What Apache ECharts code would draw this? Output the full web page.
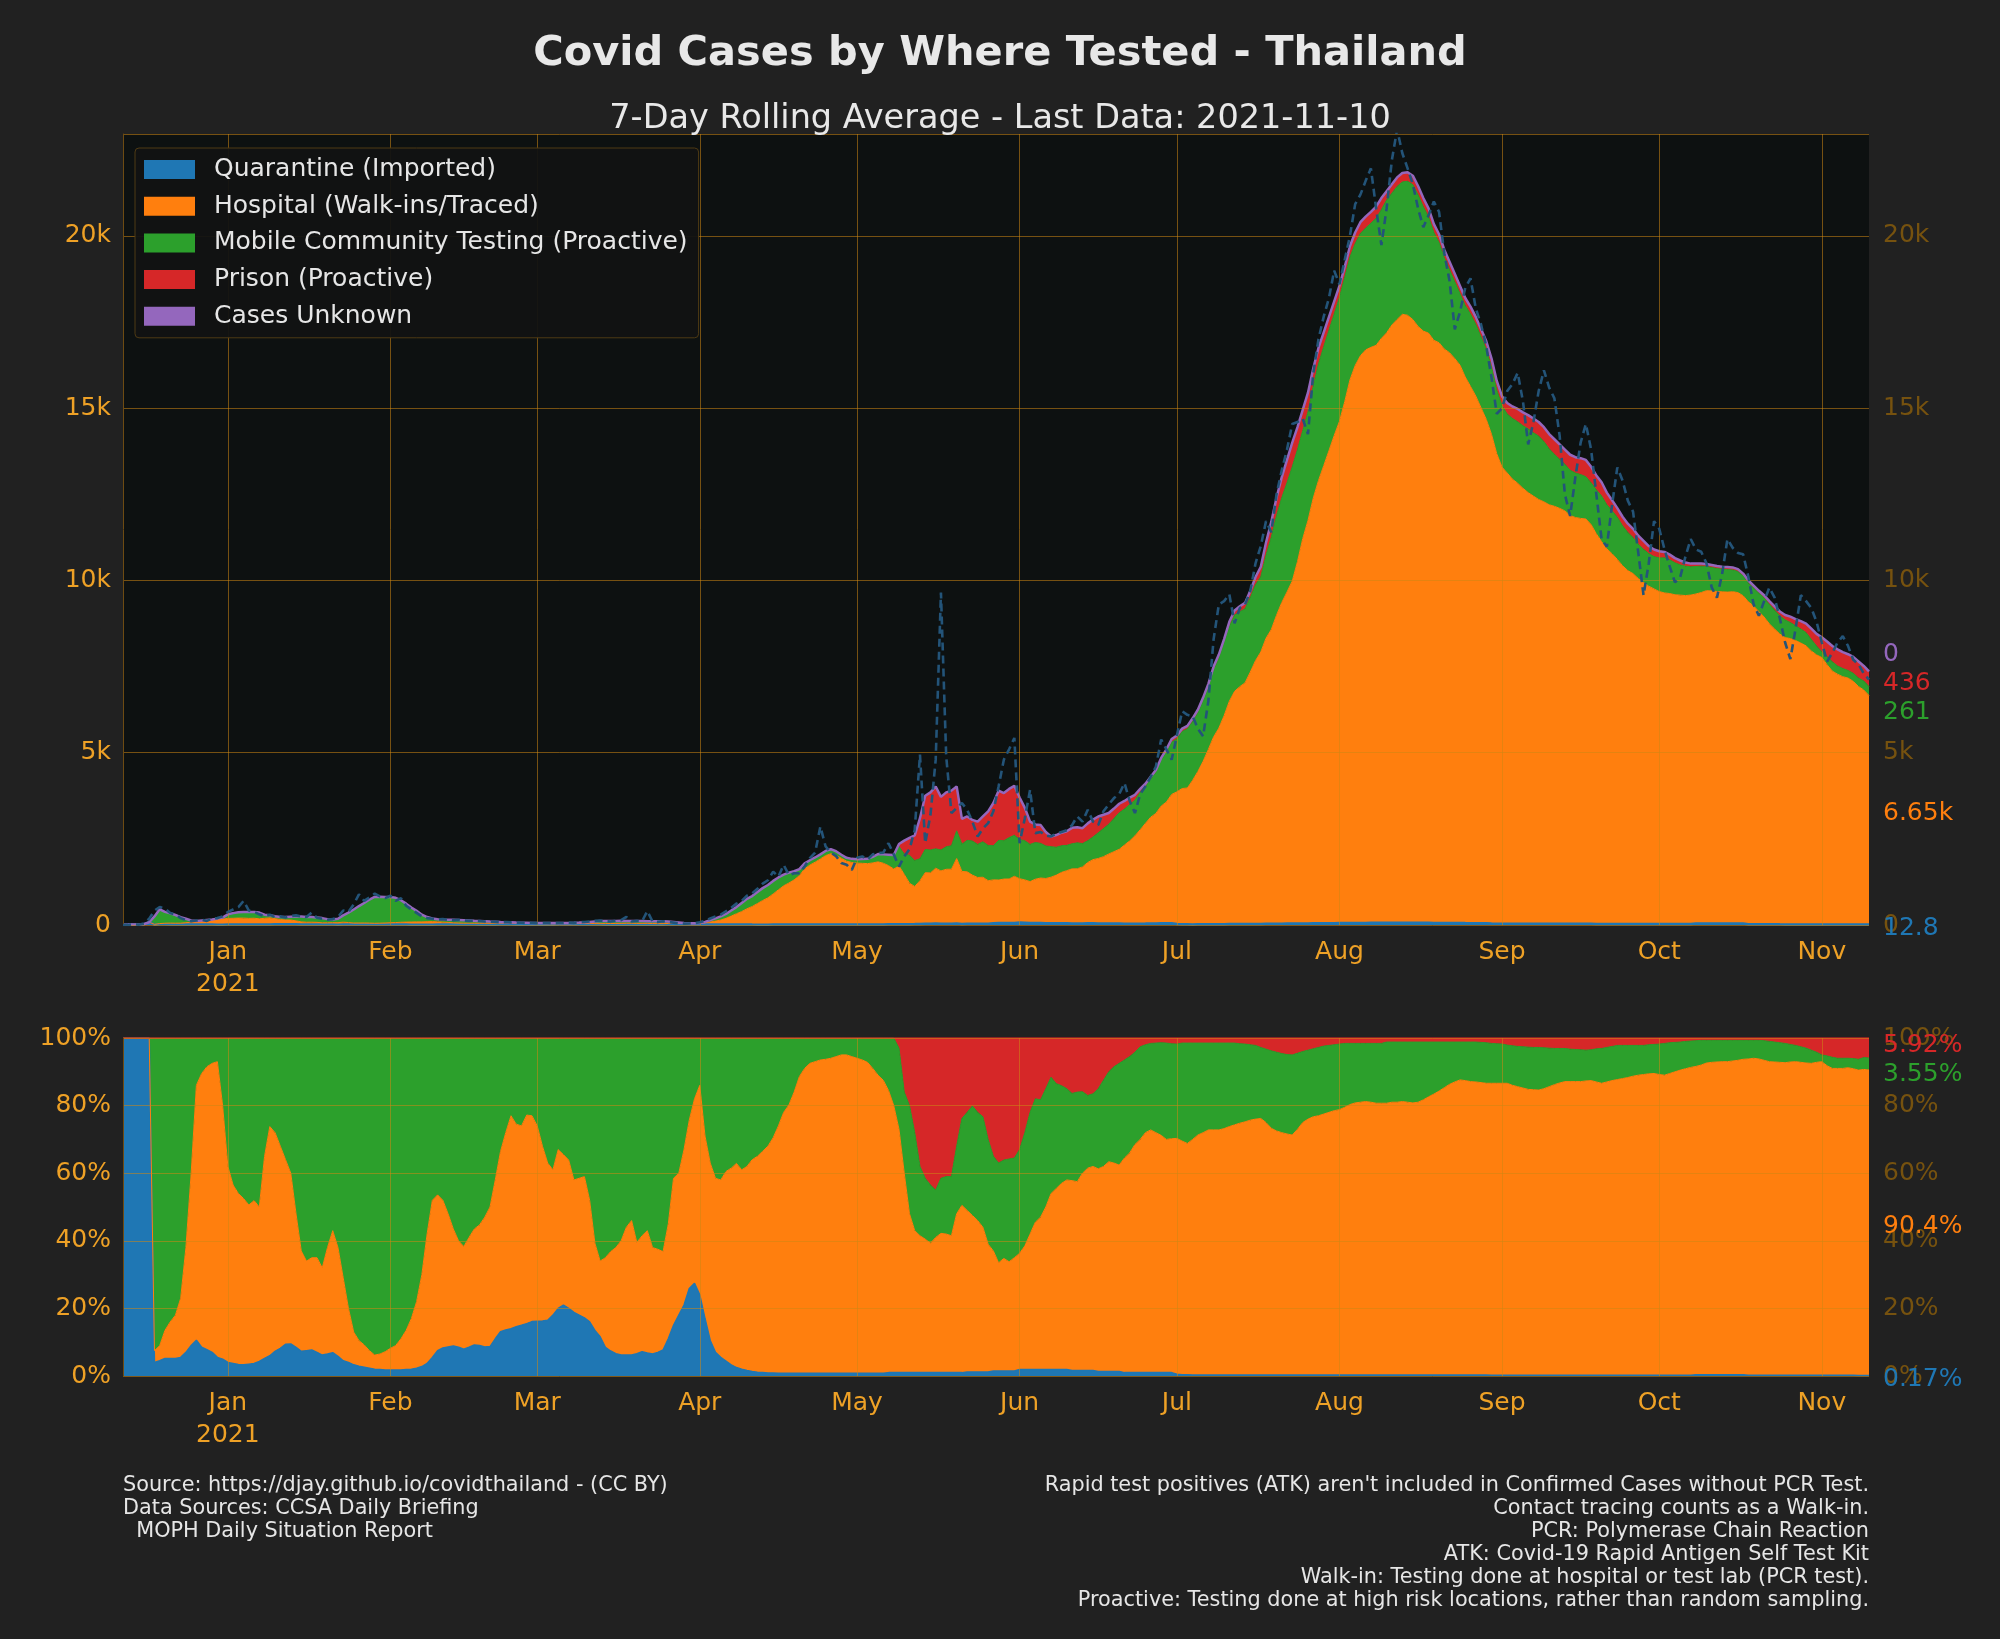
<!DOCTYPE html>
<html><head><meta charset="utf-8">
<script src="https://cdn.jsdelivr.net/npm/echarts@6.0.0/dist/echarts.min.js"></script>
<style>html,body{margin:0;padding:0;background:#212121;}#c{width:2000px;height:1639px;}</style>
</head><body><div id="c"></div><script>
// ---------- DATA ----------
const startDate = '2020-12-12';
const monthLabels = ['Jan\n2021','Feb','Mar','Apr','May','Jun','Jul','Aug','Sep','Oct','Nov','Dec'];
const seriesNames = ['Quarantine (Imported)','Hospital (Walk-ins/Traced)','Mobile Community Testing (Proactive)','Prison (Proactive)','Cases Unknown'];

// 7-day rolling average of all cases (top of the stack)
const total7d = [
10,12,15,18,25,80,250,455,380,340,
290,230,180,130,115,130,145,160,185,215,
310,345,370,380,380,378,360,300,280,255,
235,230,240,250,245,235,232,220,200,170,
160,180,280,360,450,550,640,740,815,820,
815,815,790,720,620,510,410,300,230,190,
170,160,155,150,145,140,130,120,116,110,
100,95,88,82,78,72,68,64,60,58,
58,57,57,56,58,60,65,72,80,90,
105,115,118,116,118,120,116,114,116,118,
112,110,108,106,100,88,75,60,52,48,
60,90,140,194,250,320,420,520,640,760,
840,960,1070,1160,1280,1380,1460,1520,1560,1620,
1790,1880,1960,2050,2150,2200,2140,2040,1950,1920,
1910,1915,1920,1980,2060,2050,2040,2030,2350,2450,
2530,2600,3100,3750,3850,4020,3720,3850,3900,4020,
3080,3150,3050,3000,3150,3300,3540,3900,3830,3950,
4040,3700,3400,3000,2920,2900,2700,2570,2610,2680,
2720,2820,2840,2810,2950,3060,3150,3200,3250,3380,
3520,3600,3700,3780,3950,4100,4300,4500,4850,5100,
5400,5500,5700,5780,6000,6250,6600,7000,7500,7850,
8300,8800,9130,9250,9350,9700,10100,10400,11100,11700,
12400,13000,13500,14000,14450,14950,15450,16150,16750,17200,
17650,18100,18550,19100,19700,20100,20400,20560,20700,20850,
21100,21300,21500,21700,21830,21850,21750,21450,21100,20800,
20350,20050,19600,19250,18900,18550,18200,17950,17650,17300,
16950,16450,15800,15350,15150,15050,14980,14880,14800,14700,
14600,14450,14250,14100,13950,13800,13650,13580,13550,13500,
13300,13050,12850,12550,12330,12100,11850,11650,11500,11300,
11150,11000,10900,10850,10830,10750,10650,10580,10520,10490,
10490,10490,10480,10450,10420,10400,10390,10380,10330,10200,
10000,9850,9700,9570,9400,9250,9100,9000,8950,8880,
8820,8750,8600,8450,8350,8230,8100,8000,7920,7860,
7780,7650,7520,7360];

// raw daily cases (dashed line)
const rawCases = [
0,0,20,10,40,180,420,520,480,350,
300,200,140,110,130,150,120,190,200,250,
380,450,520,700,420,380,310,250,300,230,
250,220,260,280,250,230,360,210,180,150,
170,230,420,380,600,890,700,800,910,830,
780,850,700,780,560,450,350,250,200,180,
160,170,150,140,150,130,120,125,115,100,
95,90,80,85,75,70,65,60,62,55,
58,60,52,56,60,70,62,80,85,100,
120,130,110,100,125,140,233,100,120,110,
407,100,90,110,90,70,50,40,45,50,
80,120,190,250,300,400,500,620,700,850,
920,1050,1200,1300,1550,1400,1745,1450,1500,1500,
1700,1940,2100,2860,2280,2100,2000,1800,1750,1600,
1950,1990,1900,2050,2085,2100,2375,2050,1697,1990,
2200,2763,4945,2375,3200,4800,9647,4896,3248,3400,
3539,3345,3000,2570,2800,2957,3300,4024,4800,5100,
5430,2375,3100,3927,2667,2700,2600,2570,2650,2700,
2750,2900,3151,3000,3345,3000,2900,3300,3500,3684,
3800,4120,3600,3248,3800,4024,4300,4600,5381,5100,
4800,5500,6205,6100,6060,5700,5478,6500,8290,9308,
9400,9600,8756,9200,9300,9700,10500,11000,11723,11400,
12500,13200,13800,14543,14600,14700,14246,16000,17000,17660,
18200,18995,18600,19300,20000,20924,21200,21600,21963,20800,
19737,20800,22200,23100,22400,21963,21500,20800,20257,20600,
21000,20700,19500,18698,17289,17800,18500,18772,17900,17437,
16800,15900,14840,15000,15500,15700,16027,15200,13950,14600,
15500,16101,15600,15285,14200,12500,11872,13000,14000,14543,
13800,12500,11200,10981,12200,13282,12900,12317,12000,10800,
9572,10500,11723,11500,10900,10400,9943,10100,10700,11204,
10900,10833,10500,9800,9498,10200,11204,10950,10800,10759,
10100,9300,8978,9400,9794,9500,8900,8200,7717,8600,
9572,9400,9201,8800,8200,7643,7900,8200,8385,8100,
7700,7568,7300,7123];

// stacked share boundaries (% of total)
const quarantineTopPct = [
100,100,100,100,100,100,4,4.5,5.2,5.2,
5.2,5.5,7,9,10.6,8.5,7.8,7,5.5,5,
4,3.7,3.4,3.3,3.5,3.7,4.3,5.2,6,7.3,
8.2,9.4,9.5,8.5,7.3,7.5,7.7,7,6.2,6.5,
6.9,5.8,4.5,4,3.3,2.9,2.6,2.3,2,1.9,
1.8,1.8,1.8,1.8,1.9,2,2.3,2.8,3.7,5.5,
7.5,8.3,8.6,8.9,8.5,7.9,8.5,9.2,9,8.6,
8.7,11,13.1,13.6,14,14.6,15,15.5,16.1,16.2,
16.3,16.5,18,20,21,20,18.8,18,17.2,16,
13.5,11.6,8.5,7.4,6.6,6.2,6.2,6.2,6.6,7.2,
6.8,6.5,7,7.7,11,15,18,21,25.9,27.4,
24,17,10.5,7,5.5,4.4,3.3,2.5,2,1.6,
1.3,1.1,1,0.9,0.9,0.8,0.8,0.8,0.8,0.8,
0.8,0.8,0.8,0.8,0.8,0.8,0.8,0.8,0.8,0.8,
0.8,0.8,0.8,0.8,0.8,0.8,1,1,1,1,
1,1,1,1,1,1,1,1,1,1,
1,1.2,1.2,1.2,1.2,1.2,1.5,1.5,1.5,1.5,
1.5,1.9,1.9,1.9,1.9,1.9,1.9,1.9,1.9,1.9,
1.9,1.6,1.6,1.6,1.6,1.6,1.3,1.3,1.3,1.3,
1.3,1,1,1,1,1,1,1,1,1,
1,0.5,0.4,0.4,0.3,0.3,0.3,0.3,0.3,0.3,
0.3,0.3,0.3,0.3,0.3,0.3,0.3,0.3,0.3,0.3,
0.3,0.3,0.3,0.3,0.3,0.3,0.3,0.3,0.3,0.3,
0.3,0.3,0.3,0.3,0.3,0.3,0.3,0.3,0.3,0.3,
0.3,0.3,0.3,0.3,0.3,0.3,0.3,0.3,0.3,0.3,
0.3,0.3,0.3,0.3,0.3,0.3,0.3,0.3,0.3,0.3,
0.3,0.25,0.25,0.25,0.25,0.25,0.25,0.25,0.25,0.25,
0.25,0.25,0.25,0.25,0.25,0.25,0.25,0.25,0.25,0.25,
0.25,0.25,0.25,0.25,0.25,0.25,0.25,0.25,0.25,0.25,
0.25,0.25,0.25,0.25,0.25,0.25,0.25,0.25,0.25,0.25,
0.4,0.4,0.4,0.4,0.4,0.4,0.4,0.4,0.4,0.4,
0.2,0.2,0.2,0.2,0.2,0.2,0.2,0.2,0.2,0.2,
0.2,0.2,0.2,0.2,0.2,0.2,0.2,0.2,0.2,0.2,
0.2,0.18,0.18,0.174];

const hospitalTopPct = [
100,100,100,100,100,100,7.5,9,13.5,16,
18,23,38,60,86,89.5,91.5,92.5,93,80,
62,56.5,54,52.5,50.6,51.9,50,65,73.8,72,
68,64,60,48,37,34,35,35,32,38,
43,38,29,20,13,10.5,9.2,7.5,6.2,6.5,
7.2,8.2,9,11,13.5,17,22,30,42,52,
53.6,52,48,43.5,40,38.3,41,43.5,44.7,47,
50,58,66.4,72,77,74.5,74,77.2,77,74,
68,63,61,67,65.5,63.9,58,58.5,59,52,
39.3,34,35,36.8,38,40,44,46,39.5,41.5,
43,38,37.5,36.8,45,58.5,60,67,75.7,82,
86,71,63,58.5,58,60.5,61.5,62.9,61,62,
64,65,66.5,68,70.5,74,78,80.2,84,88.6,
91,92.5,93,93.5,93.7,94,94.5,95,95,94.5,
94,93.5,92.8,91,89,87.5,84.5,80,73,60,
48,43,41.5,40.5,39.3,41,42.2,42,41.5,48,
50.5,49,47.5,46,44,39,37,33.5,34.8,33.8,
35,36.3,38.5,42,45.5,47,50,54,55.5,57,
58,57.8,57.5,60,61.5,62,61.3,62,63.4,63,
62.4,64.5,66,68.5,70,72,72.8,72,71.2,70,
70.2,70.3,69.5,68.8,70,71.3,72,72.8,72.8,72.8,
73.2,73.8,74.3,74.8,75.2,75.7,76,76.2,75,73.3,
72.5,72,71.6,71.3,73,75,76,76.7,77,77.5,
78,78.5,78.8,79.5,80.3,80.8,81,81.2,81,80.7,
80.7,80.7,81,81,81.2,81,80.8,81,81.7,82.6,
83.4,84.3,85.3,86.3,87,87.6,87.4,87.1,87,86.8,
86.6,86.6,86.6,86.6,86.6,86,85.6,85.2,84.8,84.7,
84.6,85,85.6,86.2,86.7,87.1,87.1,87.1,87.1,87.3,
87.4,87,86.6,87,87.4,87.7,88,88.3,88.7,89,
89.2,89.4,89.5,89.2,89,89.5,90,90.5,90.9,91.3,
91.6,92,92.6,92.8,92.9,93,93,93.2,93.4,93.7,
93.8,94,93.8,93.4,93,92.9,92.8,92.7,92.9,93,
92.8,92.6,92.5,92.8,93,91.8,91,91,91,91.2,
90.9,90.5,90.7,90.534];

const mobileTopPct = [
100,100,100,100,100,100,100,100,100,100,
100,100,100,100,100,100,100,100,100,100,
100,100,100,100,100,100,100,100,100,100,
100,100,100,100,100,100,100,100,100,100,
100,100,100,100,100,100,100,100,100,100,
100,100,100,100,100,100,100,100,100,100,
100,100,100,100,100,100,100,100,100,100,
100,100,100,100,100,100,100,100,100,100,
100,100,100,100,100,100,100,100,100,100,
100,100,100,100,100,100,100,100,100,100,
100,100,100,100,100,100,100,100,100,100,
100,100,100,100,100,100,100,100,100,100,
100,100,100,100,100,100,100,100,100,100,
100,100,100,100,100,100,100,100,100,100,
100,100,100,100,100,100,100,100,97,84,
80,72,62,58.5,56.5,55,58.5,59,59,68,
76.2,78,79.9,78,76.7,70,65,63,63.9,64.2,
64.5,67,72,78,82,81.7,85,88.4,86.5,85.9,
85,83.6,84,84.1,83,83.5,85,87.5,90,91.5,
92.5,93.5,94.5,95.8,97.4,98,98.4,98.5,98.6,98.5,
98.3,98.2,98.5,98.5,98.5,98.5,98.5,98.5,98.5,98.5,
98.5,98.5,98.5,98.3,98.2,98,97.8,97.2,96.7,96.2,
95.8,95.4,95.1,95,95.5,96,96.4,96.8,97.2,97.6,
97.8,98,98.2,98.4,98.4,98.4,98.4,98.4,98.4,98.4,
98.4,98.8,98.8,98.8,98.8,98.8,98.8,98.8,98.8,98.8,
98.8,98.8,98.8,98.8,98.8,98.8,98.8,98.8,98.8,98.7,
98.6,98.4,98.3,98.2,97.9,97.7,97.5,97.4,97.3,97.2,
97.2,97.1,97,96.9,96.9,96.9,96.7,96.6,96.5,96.4,
96.5,96.8,96.9,97.2,97.5,97.8,97.8,97.8,97.8,97.8,
97.8,98,98.1,98.2,98.4,98.6,98.7,98.8,99,99.1,
99.2,99.3,99.3,99.3,99.3,99.3,99.3,99.3,99.3,99.3,
99.3,99.3,99.3,99.2,99,98.8,98.6,98.4,98.1,97.8,
97.4,97,96.4,95.8,95,94.7,94.3,94,94,94,
93.9,93.7,94.2,94.08];

const unknownCasesValue = 0; // "Cases Unknown" reads 0 throughout

// ---------- BUILD ----------
const N = total7d.length;
const dates = [];
{ const t0 = Date.parse(startDate + 'T00:00:00Z'); for (let i = 0; i < N; i++) dates.push(new Date(t0 + i * 86400000).toISOString().slice(0, 10)); }

const pctQ = quarantineTopPct.slice();
const pctH = hospitalTopPct.map((v, i) => v - quarantineTopPct[i]);
const pctM = mobileTopPct.map((v, i) => v - hospitalTopPct[i]);
const pctP = mobileTopPct.map(v => 100 - v);
const toAbs = p => p.map((v, i) => total7d[i] * v / 100);
const absQ = toAbs(pctQ), absH = toAbs(pctH), absM = toAbs(pctM), absP = toAbs(pctP);
const absU = dates.map(() => unknownCasesValue);

const FONT = 'DejaVu Sans';
const ORANGE_TXT = '#eea126';
const BROWN_TXT = '#76520f';
const GRID_CLR = 'rgba(205,135,20,0.55)';
const COL = ['#1f77b4', '#ff7f0e', '#2ca02c', '#d62728', '#9467bd'];

const isMonthStart = (idx) => dates[idx] && dates[idx].slice(8) === '01';
const monthFmt = (val) => monthLabels[+val.slice(5, 7) - 1];

function xAxisCfg(gi) {
  return {
    type: 'category', gridIndex: gi, data: dates, boundaryGap: false, z: 3,
    axisLine: { show: false }, axisTick: { show: false },
    axisLabel: { interval: (i) => isMonthStart(i), formatter: monthFmt, color: ORANGE_TXT,
      fontSize: 25, lineHeight: 32, margin: 11, fontFamily: FONT, hideOverlap: false },
    splitLine: { show: true, interval: (i) => isMonthStart(i), lineStyle: { color: GRID_CLR, width: 1 } }
  };
}
function yAxisCfg(gi, pos, max, interval, fmt, color, split) {
  return {
    type: 'value', gridIndex: gi, position: pos, min: 0, max: max, interval: interval, z: 3,
    axisLine: { show: pos === 'left', lineStyle: { color: '#6d4b12', width: 1 } },
    axisTick: { show: false },
    axisLabel: { formatter: fmt, color: color, fontSize: 25, fontFamily: FONT, margin: pos === 'left' ? 12 : 14,
      padding: [7, 0, 0, 0], showMaxLabel: max === 100 },
    splitLine: { show: split, lineStyle: { color: GRID_CLR, width: 1 } }
  };
}
const kFmt = v => (v === 0 ? '0' : (v % 1000 === 0 ? (v / 1000) + 'k' : ''));
const pFmt = v => v + '%';

function area(name, data, color, xi, yi, stack, lw) {
  return { name, type: 'line', xAxisIndex: xi, yAxisIndex: yi, stack, data, symbol: 'none', showSymbol: false,
    lineStyle: { color, width: lw }, itemStyle: { color }, areaStyle: { color, opacity: 1 },
    emphasis: { disabled: true }, z: 2, silent: true };
}

const series = [
  area(seriesNames[0], absQ, COL[0], 0, 0, 'top', 2.5),
  area(seriesNames[1], absH, COL[1], 0, 0, 'top', 1),
  area(seriesNames[2], absM, COL[2], 0, 0, 'top', 1),
  area(seriesNames[3], absP, COL[3], 0, 0, 'top', 1),
  area(seriesNames[4], absU, COL[4], 0, 0, 'top', 2.5),
  { name: 'Cases', type: 'line', xAxisIndex: 0, yAxisIndex: 0, data: rawCases, symbol: 'none', z: 4, silent: true,
    lineStyle: { color: '#235479', width: 2.6, type: [8, 5] } },
  area(seriesNames[0], pctQ, COL[0], 1, 2, 'pct', 1.5),
  area(seriesNames[1], pctH, COL[1], 1, 2, 'pct', 1),
  area(seriesNames[2], pctM, COL[2], 1, 2, 'pct', 1),
  area(seriesNames[3], pctP, COL[3], 1, 2, 'pct', 1.5)
];

const chart = echarts.init(document.getElementById('c'), null, { renderer: 'canvas', width: 2000, height: 1639 });
const TOPMAX = 22960;

const footLeft = ['Source: https://djay.github.io/covidthailand - (CC BY)', 'Data Sources: CCSA Daily Briefing', '  MOPH Daily Situation Report'];
const footRight = ["Rapid test positives (ATK) aren't included in Confirmed Cases without PCR Test.", 'Contact tracing counts as a Walk-in.',
  'PCR: Polymerase Chain Reaction', 'ATK: Covid-19 Rapid Antigen Self Test Kit', 'Walk-in: Testing done at hospital or test lab (PCR test).',
  'Proactive: Testing done at high risk locations, rather than random sampling.'];

function txt(text, x, y, size, color, align, weight) {
  return { type: 'text', silent: true, z: 100,
    style: { text, x, y, fill: color, font: (weight || 'normal') + ' ' + size + 'px "' + FONT + '"',
      textAlign: align, align: align, textVerticalAlign: 'middle', verticalAlign: 'middle' } };
}
const graphics = [
  txt('Covid Cases by Where Tested - Thailand', 1000, 54, 41.5, '#e8e8e8', 'center', 'bold'),
  txt('7-Day Rolling Average - Last Data: 2021-11-10', 1000, 119, 33.5, '#e8e8e8', 'center')
];
footLeft.forEach((t, i) => graphics.push(txt(t, 123, 1486 + i * 23, 20.8, '#e6e6e6', 'left')));
footRight.forEach((t, i) => graphics.push(txt(t, 1869, 1486 + i * 23, 20.8, '#e6e6e6', 'right')));

chart.setOption({
  animation: false,
  backgroundColor: '#212121',
  textStyle: { fontFamily: FONT },
  grid: [
    { left: 123, top: 134, width: 1746, height: 791, show: true, backgroundColor: '#0d1111', borderWidth: 0, containLabel: false, outerBoundsMode: 'none' },
    { left: 123, top: 1038, width: 1746, height: 338, show: true, backgroundColor: '#0d1111', borderWidth: 0, containLabel: false, outerBoundsMode: 'none' }
  ],
  xAxis: [xAxisCfg(0), xAxisCfg(1)],
  yAxis: [
    yAxisCfg(0, 'left', TOPMAX, 5000, kFmt, ORANGE_TXT, true),
    yAxisCfg(0, 'right', TOPMAX, 5000, kFmt, BROWN_TXT, false),
    yAxisCfg(1, 'left', 100, 20, pFmt, ORANGE_TXT, true),
    yAxisCfg(1, 'right', 100, 20, pFmt, BROWN_TXT, false)
  ],
  legend: {
    data: seriesNames, orient: 'vertical', left: 135, top: 148, selectedMode: false,
    icon: 'rect', itemWidth: 51, itemHeight: 19, itemGap: 4.7, padding: [5.5, 11, 5.5, 9],
    backgroundColor: 'rgba(18,19,19,0.95)', borderColor: '#4e3a14', borderWidth: 1, borderRadius: 4,
    textStyle: { color: '#e6e6e6', fontSize: 25, fontFamily: FONT, lineHeight: 30, padding: [2, 0, 0, 14] }
  },
  series: series,
  graphic: graphics
});

// ----- end-of-series value labels at the right -----
const last = N - 1;
const fmtAbs = v => v >= 1000 ? (v / 1000).toFixed(2).replace(/\.?0+$/, '') + 'k' : (v >= 100 ? String(Math.round(v)) : (v === 0 ? '0' : v.toFixed(1)));
const fmtPct = v => (v >= 10 ? v.toFixed(1) : v.toFixed(2)) + '%';
function spread(items, gap) {
  items.sort((a, b) => a.y - b.y);
  let clusters = items.map(it => ({ items: [it], c: it.y }));
  let changed = true;
  const place = cl => cl.items.map((it, k) => cl.c + (k - (cl.items.length - 1) / 2) * gap);
  while (changed) {
    changed = false;
    for (let i = 0; i < clusters.length - 1; i++) {
      const a = clusters[i], b = clusters[i + 1];
      const pa = place(a), pb = place(b);
      if (pb[0] - pa[pa.length - 1] < gap) {
        const merged = a.items.concat(b.items);
        const c = merged.reduce((s, it) => s + it.y, 0) / merged.length;
        clusters.splice(i, 2, { items: merged, c });
        changed = true; break;
      }
    }
  }
  clusters.forEach(cl => { const p = place(cl); cl.items.forEach((it, k) => it.py = p[k]); });
  return items;
}
const topVals = [absQ[last], absH[last], absM[last], absP[last], absU[last]];
let cum = 0; const topItems = [];
topVals.forEach((v, i) => {
  const mid = cum + v / 2; cum += v;
  const px = chart.convertToPixel({ gridIndex: 0 }, [last, mid]);
  topItems.push({ y: px[1], x: px[0], text: fmtAbs(v), color: COL[i] });
});
const botVals = [pctQ[last], pctH[last], pctM[last], pctP[last]];
cum = 0; const botItems = [];
botVals.forEach((v, i) => {
  const mid = cum + v / 2; cum += v;
  const px = chart.convertToPixel({ gridIndex: 1 }, [last, mid]);
  botItems.push({ y: px[1], x: px[0], text: fmtPct(v), color: COL[i] });
});
spread(topItems, 29); spread(botItems, 29);
const endLabels = topItems.concat(botItems).map(it => txt(it.text, it.x + 14, it.py + 3.5, 25, it.color, 'left'));
const lens = [total7d, rawCases, quarantineTopPct, hospitalTopPct, mobileTopPct].map(a => a.length);
if (lens.some(l => l !== N)) endLabels.push(txt('LEN ' + lens.join(','), 300, 20, 20, '#ff0000', 'left'));
chart.setOption({ graphic: graphics.concat(endLabels) });
</script></body></html>
